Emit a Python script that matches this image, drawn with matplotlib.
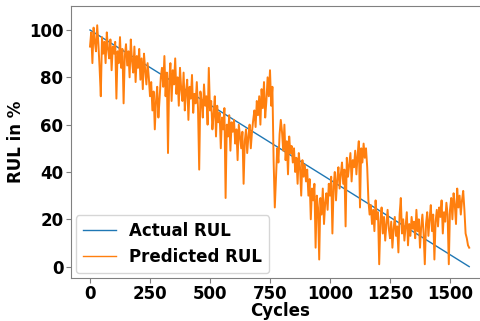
import numpy as np
import matplotlib.pyplot as plt

# actual RUL: straight line from 100 % down to 0 %
actual_cycles = [0, 1580]
actual_rul = [100, 0]

# predicted RUL, every 5 cycles
pred_step = 5
pred_rul = [
    93, 99, 86, 101, 95, 91, 102, 94, 84, 72,
    97, 90, 95, 86, 99, 92, 88, 96, 83, 93,
    90, 95, 71, 91, 86, 97, 84, 92, 69, 89,
    94, 85, 91, 80, 96, 87, 82, 93, 78, 89,
    84, 92, 79, 88, 75, 90, 83, 77, 86, 80,
    72, 78, 66, 74, 58, 70, 76, 63, 71, 80,
    84, 76, 89, 72, 82, 48, 79, 86, 70, 83,
    77, 88, 73, 80, 68, 84, 75, 70, 82, 66,
    74, 79, 62, 76, 71, 81, 65, 73, 69, 78,
    67, 41, 74, 70, 63, 77, 68, 72, 60, 84,
    66, 70, 58, 64, 72, 55, 68, 61, 65, 50,
    63, 58, 67, 29, 60, 55, 64, 49, 61, 57,
    62, 52, 58, 45, 60, 55, 50, 57, 35, 53,
    58, 48, 55, 60, 50, 57, 62, 66, 59, 70,
    64, 72, 60, 75, 67, 78, 63, 70, 80, 72,
    83, 68, 76, 45, 25, 38, 50, 44, 56, 62,
    57, 49, 60, 45, 53, 39, 55, 48, 51, 44,
    50, 40, 46, 35, 48, 42, 30, 45, 38, 43,
    36, 41, 30, 37, 20, 33, 28, 35, 8, 30,
    25, 3, 29, 22, 33, 18, 27, 31, 24, 35,
    30, 38, 14, 34, 40, 28, 37, 42, 33, 39,
    44, 35, 41, 17, 46, 38, 43, 48, 36, 45,
    42, 49, 39, 47, 53, 25, 50, 44, 52, 46,
    50, 42, 28, 22, 26, 18, 24, 15, 28, 20,
    23, 1, 19, 25, 14, 21, 11, 18, 24, 16,
    12, 19, 8, 16, 21, 13, 17, 6, 22, 29,
    14, 20, 11, 17, 23, 9, 18, 13, 21, 16,
    19, 12, 24, 15, 20, 8, 17, 22, 14, 1,
    18, 23, 13, 20, 26, 15, 22, 3, 19, 24,
    17, 25, 21, 28, 14, 23, 19, 27, 22, 1,
    24, 29, 20, 31, 26, 18, 33, 25, 30, 22,
    28, 32, 24, 14, 12, 9, 8,
]
pred_cycles = np.arange(len(pred_rul)) * pred_step

fig = plt.figure(figsize=(4.8, 3.21), dpi=100)
ax = fig.add_axes([0.148, 0.134, 0.869, 0.847])

ax.plot(actual_cycles, actual_rul, color='C0', lw=1, label='Actual RUL')
ax.plot(pred_cycles, pred_rul, color='C1', lw=1.4, label='Predicted RUL')

ax.set_xlim(-79, 1659)
ax.set_ylim(-4.8, 110.1)
ax.set_xticks(range(0, 1501, 250))
ax.set_yticks(range(0, 101, 20))
ax.tick_params(labelsize=12, color='gray')
ax.tick_params(axis='x', pad=1.5)
ax.tick_params(axis='y', pad=2)
for s in ax.spines.values():
    s.set_color('gray')
for t in ax.get_xticklabels() + ax.get_yticklabels():
    t.set_fontweight('bold')
ax.set_xlabel('Cycles', fontsize=12, fontweight='bold', labelpad=-1)
ax.set_ylabel('RUL in %', fontsize=12, fontweight='bold', labelpad=3)
leg = ax.legend(loc='lower left', prop={'size': 12, 'weight': 'bold'},
                borderaxespad=0.3)
for h in leg.get_lines():
    h.set_linewidth(1)

fig.savefig('out.png', dpi=100)
